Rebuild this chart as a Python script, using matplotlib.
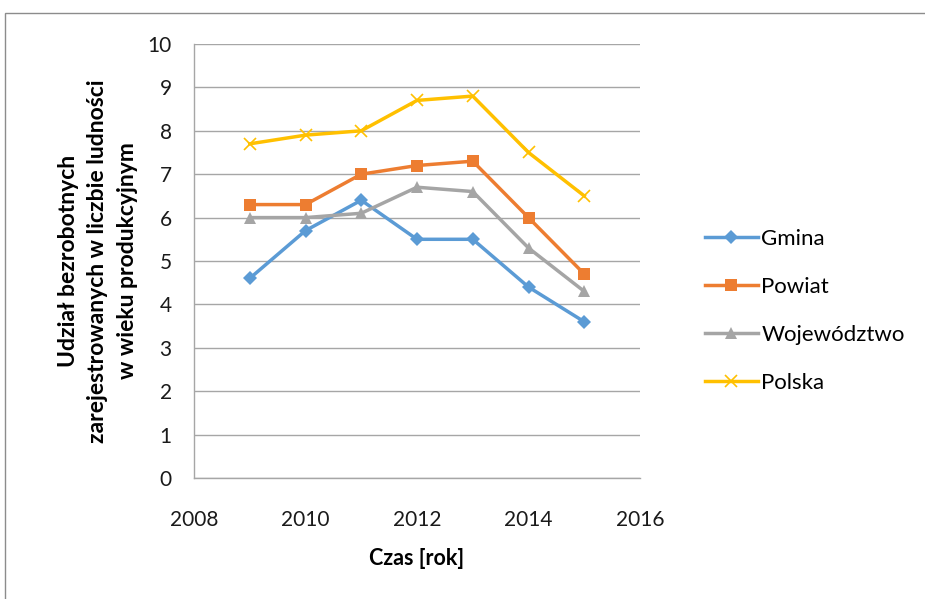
import matplotlib.pyplot as plt
from matplotlib.patches import Rectangle

# dane
years = [2009, 2010, 2011, 2012, 2013, 2014, 2015]
gmina = [4.6, 5.7, 6.4, 5.5, 5.5, 4.4, 3.6]
powiat = [6.3, 6.3, 7.0, 7.2, 7.3, 6.0, 4.7]
wojewodztwo = [6.0, 6.0, 6.1, 6.7, 6.6, 5.3, 4.3]
polska = [7.7, 7.9, 8.0, 8.7, 8.8, 7.5, 6.5]
labels = ['Gmina', 'Powiat', 'Województwo', 'Polska']

plt.rcParams['font.family'] = ['Lato', 'DejaVu Sans']

fig = plt.figure(figsize=(9.25, 5.99), dpi=100)
ax = fig.add_axes([194/925, 1 - 478/599, (640 - 194)/925, (478 - 44)/599])

# ramka wykresu
fig.patches.append(Rectangle((5/925, -0.02), 1.0, 1 - 13/599 + 0.02,
                             transform=fig.transFigure, fill=False,
                             edgecolor='#8c8c8c', linewidth=1.0))

series = [
    (gmina, '#5B9BD5', 'D', 7),
    (powiat, '#ED7D31', 's', 8),
    (wojewodztwo, '#A5A5A5', '^', 8),
    (polska, '#FFC000', 'x', 9),
]
for (vals, col, mk, ms), lab in zip(series, labels):
    ax.plot(years, vals, color=col, marker=mk, markersize=ms, linewidth=2.5,
            markeredgewidth=1.2 if mk == 'x' else 0, markerfacecolor=col,
            markeredgecolor=col, label=lab)

ax.set_xlim(2008, 2016)
ax.set_ylim(0, 10)
ax.set_xticks(range(2008, 2017, 2))
ax.set_yticks(range(0, 11))
ax.grid(axis='y', color='#A6A6A6', linewidth=1.0)
ax.set_axisbelow(True)
for s in ['top', 'right']:
    ax.spines[s].set_visible(False)
for s in ['left', 'bottom']:
    ax.spines[s].set_color('#A6A6A6')
    ax.spines[s].set_linewidth(1.0)
ax.tick_params(length=0, labelsize=15, colors='#1a1a1a')
ax.tick_params(axis='y', pad=16)
ax.tick_params(axis='x', pad=23)

ax.set_xlabel('Czas [rok]', fontsize=15.5, fontweight='bold', labelpad=13)
ax.set_ylabel('Udział bezrobotnych\nzarejestrowanych w liczbie ludności\nw wieku produkcyjnym',
              fontsize=16.5, fontweight='bold', labelpad=7, linespacing=1.5)

ax.legend(loc='center left', bbox_to_anchor=(1.1, 0.385), frameon=False,
          fontsize=16, handlelength=2.4, labelspacing=1.25, handletextpad=0.15)

fig.savefig('out.png', dpi=100)
